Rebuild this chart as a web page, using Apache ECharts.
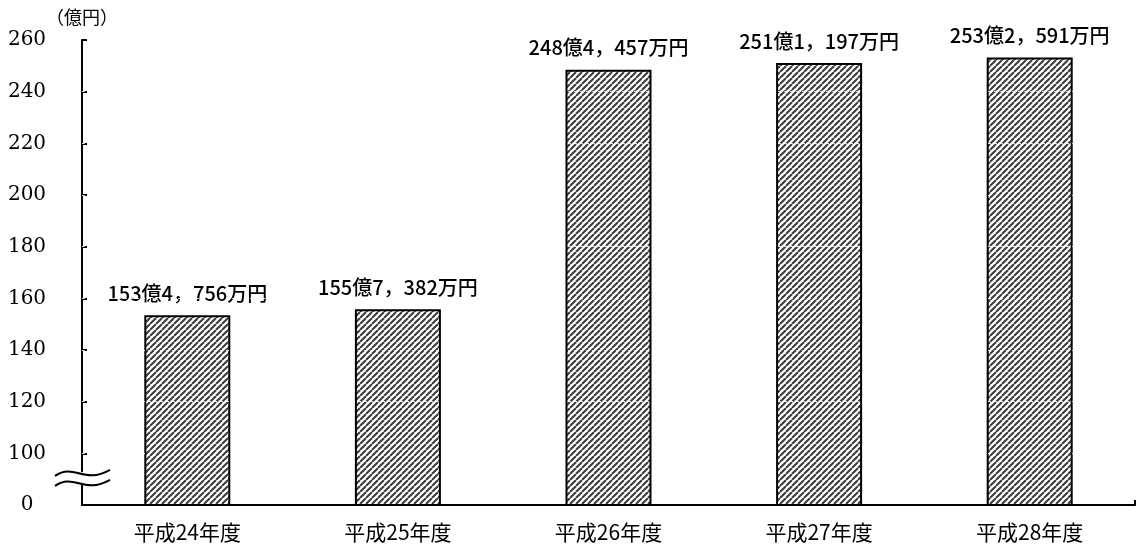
<!DOCTYPE html>
<html>
<head>
<meta charset="utf-8">
<script src="https://cdn.jsdelivr.net/npm/echarts@6/dist/echarts.min.js"></script>
<style>
  html, body { margin: 0; padding: 0; background: #fff; }
  #chart { width: 1139px; height: 546px; }
</style>
</head>
<body>
<div id="chart"></div>
<script>
// 年度別の金額（単位：億円）
const categories = ['平成24年度', '平成25年度', '平成26年度', '平成27年度', '平成28年度'];
const amounts = [153.4756, 155.7382, 248.4457, 251.1197, 253.2591];

// 縦軸は省略線より下を詰めて描く：80 の位置に「0」を表示
const axisBase = 80;
const axisTop = 260;
const axisStep = 20;
const tickLabels = ['0', '100', '120', '140', '160', '180', '200', '220', '240', '260'];

const gridLeft = 82;

// 斜線の塗りパターン
function hatchPattern() {
  const s = 6;
  const c = document.createElement('canvas');
  c.width = s; c.height = s;
  const g = c.getContext('2d');
  g.fillStyle = '#ffffff';
  g.fillRect(0, 0, s, s);
  g.strokeStyle = '#3a3a3a';
  g.lineWidth = 2;
  g.beginPath();
  for (let k = -1; k <= 1; k++) {
    g.moveTo(k * s, s);
    g.lineTo(k * s + s, 0);
  }
  g.stroke();
  return { image: c, repeat: 'repeat' };
}

// 153.4756 → 153億4，756万円
function yenLabel(v) {
  const oku = Math.floor(v + 1e-9);
  const man = Math.round((v - oku) * 10000);
  const manStr = man >= 1000
    ? Math.floor(man / 1000) + '，' + String(man % 1000).padStart(3, '0')
    : String(man);
  return oku + '億' + manStr + '万円';
}

const gridLines = [];
for (let v = axisBase + axisStep; v < axisTop; v += axisStep) {
  gridLines.push({ yAxis: v });
}

const chart = echarts.init(document.getElementById('chart'));
chart.setOption({
  animation: false,
  backgroundColor: '#ffffff',
  grid: { left: gridLeft, right: 4, top: 40, bottom: 41, containLabel: false },
  xAxis: {
    type: 'category',
    data: categories,
    axisLine: { lineStyle: { color: '#000', width: 2 } },
    axisTick: { show: false },
    axisLabel: {
      color: '#000',
      fontSize: 21,
      margin: 17,
      fontFamily: '"Noto Sans CJK JP", sans-serif'
    }
  },
  yAxis: {
    type: 'value',
    min: axisBase,
    max: axisTop,
    interval: axisStep,
    name: '（億円）',
    nameLocation: 'end',
    nameGap: 14,
    nameTextStyle: {
      color: '#000',
      fontSize: 18,
      fontFamily: '"Noto Sans CJK JP", serif',
      align: 'center'
    },
    axisLine: { show: true, lineStyle: { color: '#000', width: 2 } },
    axisTick: { show: true, inside: true, length: 5, lineStyle: { color: '#000', width: 2 } },
    splitLine: { show: false },
    axisLabel: {
      color: '#000',
      fontSize: 20,
      margin: 55,
      align: 'center',
      fontFamily: '"DejaVu Serif", "Liberation Serif", serif',
      formatter: function (v) {
        return tickLabels[Math.round((v - axisBase) / axisStep)];
      }
    }
  },
  series: [{
    type: 'bar',
    data: amounts,
    barWidth: 86,
    itemStyle: {
      color: hatchPattern(),
      borderColor: '#000',
      borderWidth: 2
    },
    label: {
      show: true,
      position: 'top',
      distance: 12,
      color: '#000',
      fontSize: 20,
      fontWeight: 500,
      fontFamily: '"Noto Sans CJK JP", sans-serif',
      formatter: function (p) { return yenLabel(p.value); }
    },
    markLine: {
      silent: true,
      symbol: 'none',
      label: { show: false },
      lineStyle: { color: '#ffffff', type: [3, 3], width: 1, opacity: 0.8 },
      data: gridLines
    }
  }]
});

// 軸の省略記号（波線）と横軸右端の目盛
function drawDecorations() {
  const yMid = chart.convertToPixel({ yAxisIndex: 0 }, axisBase + 10.5);
  const x0 = gridLeft - 27;
  const w = 55;
  const wave = function (y) {
    return {
      x1: x0, y1: y + 3,
      cpx1: x0 + 20, cpy1: y - 10,
      cpx2: x0 + 28, cpy2: y + 12,
      x2: x0 + w, y2: y - 3
    };
  };
  const up = yMid - 5, lo = yMid + 5;
  const right = chart.getWidth() - 4;
  const bottom = chart.convertToPixel({ yAxisIndex: 0 }, axisBase);
  chart.setOption({
    graphic: [
      { type: 'rect', shape: { x: gridLeft - 3, y: up - 1, width: 6, height: lo - up + 2 }, style: { fill: '#fff' }, z: 100 },
      { type: 'bezierCurve', shape: wave(up), style: { fill: null, stroke: '#000', lineWidth: 2 }, z: 101 },
      { type: 'bezierCurve', shape: wave(lo), style: { fill: null, stroke: '#000', lineWidth: 2 }, z: 101 },
      { type: 'line', shape: { x1: right, y1: bottom, x2: right, y2: bottom - 5 }, style: { stroke: '#000', lineWidth: 2 }, z: 101 }
    ]
  });
}
drawDecorations();
</script>
</body>
</html>
